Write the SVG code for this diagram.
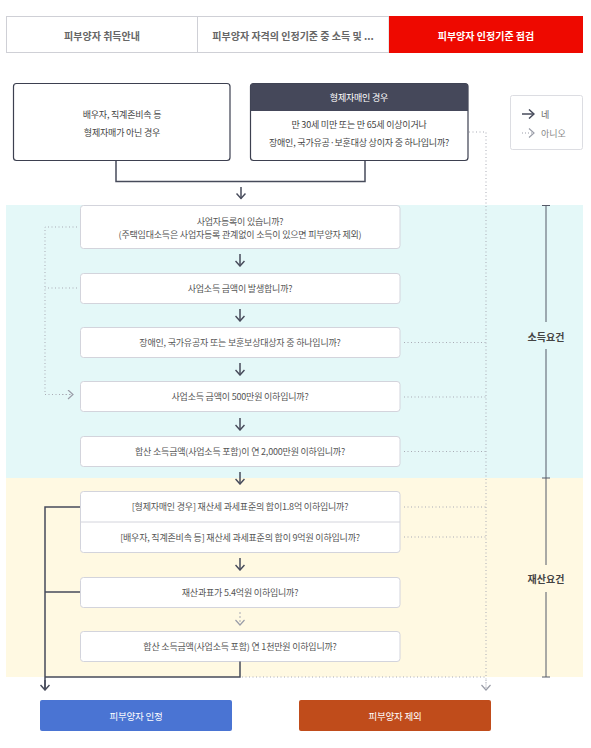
<svg xmlns="http://www.w3.org/2000/svg" width="591" height="748" viewBox="0 0 591 748">
<defs>
<style>
text{font-family:"Noto Sans CJK KR","Noto Sans",sans-serif;dominant-baseline:central;text-anchor:middle}
.tab{fill:#fff;stroke:#cfd0d6;stroke-width:1}
.tabt{font-size:10px;font-weight:bold;fill:#666}
.q{fill:#fff;stroke:#d3d4dc;stroke-width:1}
.qt{font-size:9px;fill:#555;letter-spacing:-0.2px}
.tt{font-size:9px;fill:#444;letter-spacing:-0.2px}
.sol{fill:none;stroke:#474b5b;stroke-width:1.5}
.dot{fill:none;stroke:#a9abb5;stroke-width:1;stroke-dasharray:1 2.5}
.dash{fill:none;stroke:#a9abb5;stroke-width:1;stroke-dasharray:2 2}
.brk{fill:none;stroke:#555a68;stroke-width:1}
.lab{font-size:10px;font-weight:bold;fill:#444}
.btn{font-size:9.5px;fill:#fff;letter-spacing:-0.2px}
</style>
<marker id="ah" viewBox="0 0 10 10" refX="9" refY="5" markerWidth="10" markerHeight="10" markerUnits="userSpaceOnUse" orient="auto">
<path d="M4,0.5 L9,5 L4,9.5" fill="none" stroke="#474b5b" stroke-width="1.5"/>
</marker>
<marker id="ahg" viewBox="0 0 10 10" refX="9" refY="5" markerWidth="10" markerHeight="10" markerUnits="userSpaceOnUse" orient="auto">
<path d="M4,0.5 L9,5 L4,9.5" fill="none" stroke="#9a9da8" stroke-width="1.2"/>
</marker>
</defs>
<rect width="591" height="748" fill="#fff"/>

<g id="tabs">
<rect class="tab" x="6.5" y="16.5" width="191" height="36"/>
<rect class="tab" x="197.5" y="16.5" width="191.5" height="36"/>
<rect x="389" y="16" width="194" height="37" fill="#ee0900"/>
<text class="tabt" x="102" y="35">피부양자 취득안내</text>
<text class="tabt" x="293" y="35">피부양자 자격의 인정기준 중 소득 및 ...</text>
<text class="tabt" x="486" y="35" style="fill:#fff">피부양자 인정기준 점검</text>
</g>

<g id="bands">
<rect x="6" y="205" width="577" height="273" fill="#e4f8f8"/>
<rect x="6" y="478" width="577" height="199" fill="#fff9e2"/>
</g>

<g id="node-spouse">
<rect x="13.5" y="83.5" width="216.5" height="77" rx="3" fill="#fff" stroke="#3d4050" stroke-width="1.2"/>
<text class="tt" x="122" y="114">배우자, 직계존비속 등</text>
<text class="tt" x="122" y="132">형제자매가 아닌 경우</text>
</g>

<g id="node-sibling">
<rect x="250.5" y="83.5" width="217.5" height="77" rx="3" fill="#fff" stroke="#3d4050" stroke-width="1.2"/>
<path d="M250.5,111 V86.5 a3,3 0 0 1 3,-3 H465 a3,3 0 0 1 3,3 V111 Z" fill="#45485a"/>
<text class="tt" x="359" y="97" style="fill:#fff">형제자매인 경우</text>
<text class="tt" x="359" y="124">만 30세 미만 또는 만 65세 이상이거나</text>
<text class="tt" x="359" y="142">장애인, 국가유공·보훈대상 상이자 중 하나입니까?</text>
</g>

<g id="legend">
<rect x="510.5" y="95.5" width="72" height="54" rx="2" fill="#fff" stroke="#dcdde2"/>
<line x1="522" y1="114" x2="534" y2="114" class="sol" marker-end="url(#ah)"/>
<text x="541" y="114" style="font-size:9px;fill:#666;text-anchor:start">네</text>
<line x1="522" y1="133" x2="534" y2="133" style="fill:none;stroke:#9a9da8;stroke-width:1;stroke-dasharray:1 2" marker-end="url(#ahg)"/>
<text x="541" y="133" style="font-size:9px;fill:#888;text-anchor:start">아니오</text>
</g>

<g id="q1">
<rect class="q" x="80.5" y="205.5" width="319.5" height="43" rx="3"/>
<text class="qt" x="240" y="221">사업자등록이 있습니까?</text>
<text class="qt" x="240" y="234">(주택임대소득은 사업자등록 관계없이 소득이 있으면 피부양자 제외)</text>
</g>
<g id="q2">
<rect class="q" x="80.5" y="273.5" width="319.5" height="30" rx="3"/>
<text class="qt" x="240" y="288.5">사업소득 금액이 발생합니까?</text>
</g>
<g id="q3">
<rect class="q" x="80.5" y="327.5" width="319.5" height="30" rx="3"/>
<text class="qt" x="240" y="342.5">장애인, 국가유공자 또는 보훈보상대상자 중 하나입니까?</text>
</g>
<g id="q4">
<rect class="q" x="80.5" y="381.5" width="319.5" height="30" rx="3"/>
<text class="qt" x="240" y="396.5">사업소득 금액이 500만원 이하입니까?</text>
</g>
<g id="q5">
<rect class="q" x="80.5" y="436.5" width="319.5" height="30" rx="3"/>
<text class="qt" x="240" y="451.5">합산 소득금액(사업소득 포함)이 연  2,000만원 이하입니까?</text>
</g>
<g id="q6">
<rect class="q" x="80.5" y="491.5" width="319.5" height="61" rx="3"/>
<line x1="81" y1="522" x2="400" y2="522" stroke="#d3d4dc"/>
<text class="qt" x="240" y="506.5">[형제자매인 경우] 재산세 과세표준의 합이1.8억 이하입니까?</text>
<text class="qt" x="240" y="537.5">[배우자, 직계존비속 등] 재산세 과세표준의 합이 9억원 이하입니까?</text>
</g>
<g id="q7">
<rect class="q" x="80.5" y="577.5" width="319.5" height="30" rx="3"/>
<text class="qt" x="240" y="592">재산과표가 5.4억원 이하입니까?</text>
</g>
<g id="q8">
<rect class="q" x="80.5" y="631.5" width="319.5" height="30" rx="3"/>
<text class="qt" x="240" y="646">합산 소득금액(사업소득 포함) 연 1천만원 이하입니까?</text>
</g>

<g id="brackets">
<path class="brk" d="M546,205 V322 M546,349 V478 M542,205.5 H550 M542,478 H550"/>
<text class="lab" x="546" y="336">소득요건</text>
<path class="brk" d="M546,478 V565 M546,592 V677 M542,677 H550"/>
<text class="lab" x="546" y="578">재산요건</text>
</g>

<g id="result-yes">
<rect x="40" y="700" width="192" height="31" rx="2" fill="#4a74d3"/>
<text class="btn" x="136" y="715.5">피부양자 인정</text>
</g>
<g id="result-no">
<rect x="299" y="700" width="192" height="31" rx="2" fill="#c04c1b"/>
<text class="btn" x="395" y="715.5">피부양자 제외</text>
</g>

<g id="connectors">
<path class="sol" d="M116,161 V181.5 H365 V161"/>
<line class="sol" x1="241" y1="187" x2="241" y2="198.5" marker-end="url(#ah)"/>
<line class="sol" x1="240" y1="254" x2="240" y2="266" marker-end="url(#ah)"/>
<line class="sol" x1="240" y1="309" x2="240" y2="321" marker-end="url(#ah)"/>
<line class="sol" x1="240" y1="363" x2="240" y2="375" marker-end="url(#ah)"/>
<line class="sol" x1="240" y1="418" x2="240" y2="430" marker-end="url(#ah)"/>
<line class="sol" x1="240" y1="472" x2="240" y2="484" marker-end="url(#ah)"/>
<line class="sol" x1="240" y1="558" x2="240" y2="570" marker-end="url(#ah)"/>
<line class="dash" x1="240" y1="612" x2="240" y2="625" marker-end="url(#ahg)"/>
<path class="dot" d="M469,132 H486 V690"/>
<line class="dot" x1="486" y1="680" x2="486" y2="690" marker-end="url(#ahg)"/>
<path class="dot" d="M77,227 H45 V394.5 H72"/>
<line class="dot" x1="62" y1="394.5" x2="73" y2="394.5" marker-end="url(#ahg)"/>
<path class="dot" d="M77,288 H45"/>
<path class="dot" d="M404,342.5 H486 M404,397 H486 M404,451.5 H486 M404,507 H486 M404,537 H486"/>
<path class="dot" d="M242,677 H486"/>
<path class="sol" d="M80,507 H45 V690 M80,592 H45 M240,661.5 V677 H45"/>
<line class="sol" x1="45" y1="680" x2="45" y2="690" marker-end="url(#ah)"/>
</g>
</svg>
